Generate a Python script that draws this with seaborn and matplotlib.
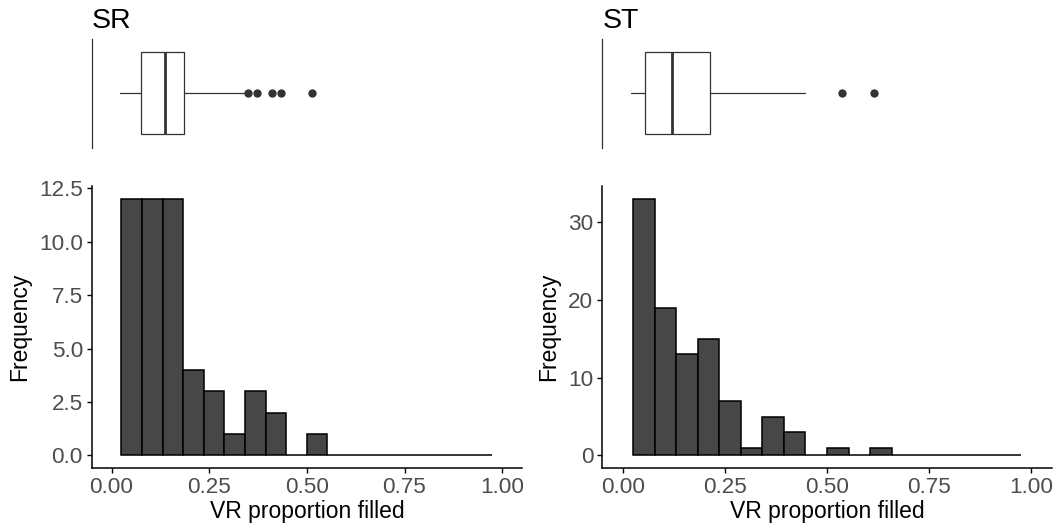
import numpy as np
import pandas as pd
import matplotlib
matplotlib.use("Agg")
import matplotlib.pyplot as plt
import seaborn as sns

# ---- data ----
panels = ["SR", "ST"]
bin_lo, bin_hi, n_bins = 0.025, 0.975, 18
sr_counts = [12, 12, 12, 4, 3, 1, 3, 2, 0, 1, 0, 0, 0, 0, 0, 0, 0, 0]
st_counts = [33, 19, 13, 15, 7, 1, 5, 3, 0, 1, 0, 1, 0, 0, 0, 0, 0, 0]

# box summaries: whisker low, Q1, median, Q3, whisker high, outliers
sr_box = dict(whislo=0.021, q1=0.075, med=0.136, q3=0.186, whishi=0.343,
              fliers=[0.349, 0.373, 0.412, 0.434, 0.514])
st_box = dict(whislo=0.020, q1=0.055, med=0.121, q3=0.214, whishi=0.445,
              fliers=[0.536, 0.614])

x_ticks = [0.00, 0.25, 0.50, 0.75, 1.00]
x_tick_labels = ["0.00", "0.25", "0.50", "0.75", "1.00"]
sr_y_ticks = [0.0, 2.5, 5.0, 7.5, 10.0, 12.5]
st_y_ticks = [0, 10, 20, 30]
x_label = "VR proportion filled"
y_label = "Frequency"

# ---- style ----
sns.set_theme(style="white")
plt.rcParams["font.family"] = ["Liberation Sans", "DejaVu Sans"]

W, H = 1063, 529
fig = plt.figure(figsize=(W / 100, H / 100), dpi=100)

edges = [float(e) for e in np.linspace(bin_lo, bin_hi, n_bins + 1)]
centers = [(a + b) / 2 for a, b in zip(edges[:-1], edges[1:])]

tick_col = "#4D4D4D"
bar_fill = "#474747"

layout = [
    dict(left=92, right=521.7, counts=sr_counts, box=sr_box, yticks=sr_y_ticks,
         ylim=(-0.6, 12.6), fmt="{:.1f}"),
    dict(left=602.3, right=1051.7, counts=st_counts, box=st_box, yticks=st_y_ticks,
         ylim=(-1.65, 34.65), fmt="{:d}"),
]

for name, cfg in zip(panels, layout):
    l = cfg["left"] / W
    w = (cfg["right"] - cfg["left"]) / W
    # histogram axes
    hb = 1 - 468.3 / H
    ht = 1 - 186.2 / H
    ax = fig.add_axes([l, hb, w, ht - hb])
    df = pd.DataFrame({"x": centers, "w": [float(c) for c in cfg["counts"]]})
    sns.histplot(data=df, x="x", weights="w", bins=edges, ax=ax,
                 color=bar_fill, edgecolor="black", linewidth=1.1, alpha=1)
    ax.set_xlim(-0.05, 1.05)
    ax.set_ylim(*cfg["ylim"])
    ax.set_xticks(x_ticks)
    ax.set_xticklabels(x_tick_labels)
    ax.set_yticks(cfg["yticks"])
    ax.set_yticklabels([cfg["fmt"].format(v) for v in cfg["yticks"]])
    for s in ["top", "right"]:
        ax.spines[s].set_visible(False)
    for s in ["left", "bottom"]:
        ax.spines[s].set_color("black")
        ax.spines[s].set_linewidth(1.1)
    ax.tick_params(axis="both", which="major", length=3.5, width=1.0,
                   color="black", labelsize=16.2, labelcolor=tick_col,
                   bottom=True, left=True, pad=3)
    ax.set_xlabel(x_label, fontsize=16.5, color="black", labelpad=1)
    ax.set_ylabel(y_label, fontsize=16.5, color="black", labelpad=6)
    ax.grid(False)

    # boxplot axes
    bb = 1 - 147.7 / H
    bt = 1 - 39 / H
    axb = fig.add_axes([l, bb, w, bt - bb])
    stats = dict(cfg["box"])
    stats["label"] = name
    axb.bxp([stats], positions=[0], widths=0.75, vert=False, showcaps=False,
            patch_artist=True, showfliers=True,
            boxprops=dict(facecolor="white", edgecolor="#333333", linewidth=0.9),
            whiskerprops=dict(color="#333333", linewidth=0.9),
            medianprops=dict(color="#333333", linewidth=2.0),
            flierprops=dict(marker="o", markerfacecolor="#333333",
                            markeredgecolor="#333333", markersize=5))
    axb.set_xlim(-0.05, 1.05)
    axb.set_ylim(-0.497, 0.497)
    axb.set_xticks([])
    axb.set_yticks([])
    for s in ["top", "right", "bottom"]:
        axb.spines[s].set_visible(False)
    axb.spines["left"].set_color("#333333")
    axb.spines["left"].set_linewidth(0.9)
    axb.set_facecolor("white")
    axb.set_title(name, loc="left", fontsize=20.5, color="black", pad=8)

fig.savefig("out.png", dpi=100, facecolor="white")
